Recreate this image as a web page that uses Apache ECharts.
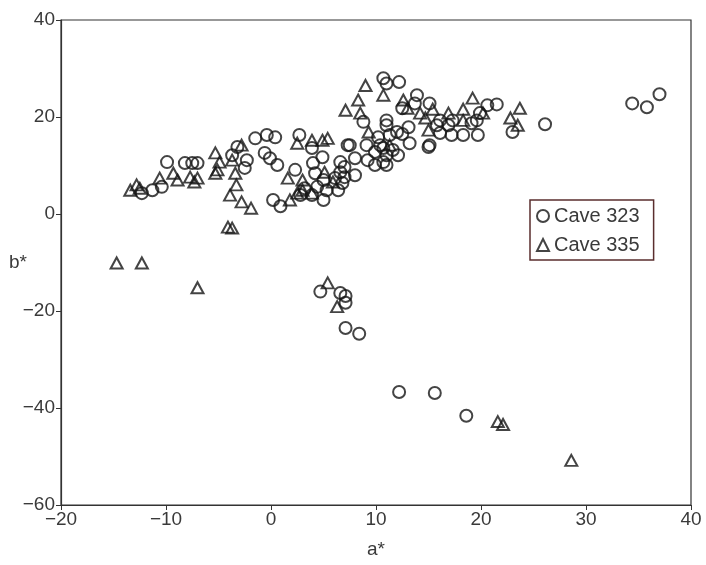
<!DOCTYPE html>
<html>
<head>
<meta charset="utf-8">
<script src="https://cdn.jsdelivr.net/npm/echarts@6/dist/echarts.min.js"></script>
<style>
  html, body { margin: 0; padding: 0; background: #fff; }
  #chart { width: 706px; height: 565px; }
</style>
</head>
<body>
<div id="chart"></div>
<script>
// a*, b* values
const cave323 = [
  [-12.3, 4.3], [-11.3, 4.9], [-10.4, 5.6], [-9.9, 10.7], [-8.2, 10.5], [-7.5, 10.5], [-7.0, 10.5],
  [-3.7, 12.1], [-3.2, 13.8], [-2.3, 11.1], [-2.5, 9.5], [-1.5, 15.6],
  [-0.4, 16.3], [0.4, 15.8], [2.7, 16.3], [3.9, 13.6], [7.3, 14.2], [4.9, 11.7], [-0.6, 12.6],
  [-0.1, 11.5], [0.6, 10.1], [4.0, 10.5], [6.6, 10.7], [2.3, 9.1], [4.2, 8.4], [5.0, 7.0], [6.1, 7.4],
  [6.8, 6.4], [3.2, 5.3], [4.4, 5.6], [5.3, 4.9], [6.4, 4.9], [2.8, 3.9], [3.9, 3.9], [5.0, 2.9],
  [0.2, 2.9], [0.9, 1.6],
  [10.7, 28.0], [11.0, 26.9], [12.2, 27.2], [13.9, 24.5], [13.7, 22.8], [12.5, 21.8], [15.1, 22.8],
  [20.6, 22.4], [21.5, 22.6], [19.9, 20.8], [19.6, 19.3], [19.1, 18.7], [16.1, 19.3], [17.3, 19.3],
  [15.8, 18.3], [16.9, 18.3], [16.1, 16.7], [17.2, 16.3], [18.3, 16.3], [19.7, 16.3], [23.0, 16.9],
  [11.0, 19.3], [11.0, 18.3], [13.1, 17.9], [12.0, 16.9], [12.5, 16.5], [10.2, 15.8], [11.3, 16.3],
  [13.2, 14.6], [15.1, 14.2], [15.0, 13.8], [9.1, 14.2], [7.5, 14.2], [10.4, 14.2], [10.7, 13.6],
  [11.6, 13.2], [9.9, 12.8], [11.0, 12.1], [12.1, 12.1], [8.0, 11.5], [9.2, 11.1], [10.7, 10.7],
  [9.9, 10.1], [11.0, 10.1], [7.0, 9.7], [6.6, 8.6], [8.0, 8.0], [7.0, 7.6], [8.8, 19.0],
  [26.1, 18.5], [34.4, 22.8], [35.8, 22.0], [37.0, 24.7],
  [4.7, -16.0], [6.6, -16.3], [7.1, -16.9], [7.1, -18.3], [7.1, -23.5], [8.4, -24.7],
  [12.2, -36.7], [15.6, -36.9], [18.6, -41.6]
]

const cave335 = [
  [-14.7, -10.1], [-12.3, -10.1], [-7.0, -15.2], [5.4, -14.2], [6.3, -19.1],
  [21.6, -42.8], [22.1, -43.4], [28.6, -50.8],
  [-13.4, 4.9], [-12.8, 6.0], [-12.5, 5.3], [-10.6, 7.4], [-9.3, 8.4], [-8.9, 7.0], [-7.7, 7.6],
  [-7.3, 6.6], [-7.0, 7.4], [-5.3, 12.6], [-4.9, 10.7], [-5.1, 9.1], [-5.3, 8.4], [-3.7, 11.1],
  [-3.4, 8.4], [-3.3, 6.0], [-3.9, 3.9], [-2.8, 2.5], [-1.9, 1.2], [-4.1, -2.7], [-3.7, -2.9],
  [-2.8, 14.2],
  [2.5, 14.6], [3.9, 15.2], [4.9, 15.2], [5.4, 15.6], [1.6, 7.4], [3.0, 7.0], [5.1, 8.6], [5.9, 6.6],
  [3.0, 4.9], [2.5, 4.3], [3.9, 4.3], [1.8, 2.9],
  [9.0, 26.5], [10.7, 24.5], [8.3, 23.5], [7.1, 21.4], [8.5, 20.8], [12.6, 23.5], [13.0, 21.8],
  [19.2, 23.9], [15.4, 21.6], [14.2, 20.8], [14.7, 19.8], [16.9, 20.8], [18.3, 21.6], [18.3, 19.3],
  [20.2, 20.8], [22.8, 19.8], [23.7, 21.8], [15.0, 17.3], [9.3, 16.9], [11.3, 14.2], [23.5, 18.3]
]

const xTicks = [-20, -10, 0, 10, 20, 30, 40]
const yTicks = [-60, -40, -20, 0, 20, 40]

const minus = v => String(v).replace('-', '\u2212')
const labelFont = { color: '#3a3a3a', fontSize: 19, fontFamily: 'Liberation Sans, Arial, sans-serif' }

const chart = echarts.init(document.getElementById('chart'))
const option = {
  animation: false,
  grid: {
    left: 61, right: 15, top: 20, bottom: 60,
    outerBoundsMode: 'none',
    show: true, borderColor: '#333', borderWidth: 1.2
  },
  xAxis: {
    type: 'value',
    min: xTicks[0], max: xTicks[xTicks.length - 1], interval: 10,
    name: 'a*', nameLocation: 'middle', nameGap: 35,
    nameTextStyle: labelFont,
    axisLine: { onZero: false, lineStyle: { color: '#333', width: 1.2 } },
    axisTick: { show: true, length: 5, lineStyle: { color: '#333' } },
    axisLabel: Object.assign({ margin: 5, formatter: minus }, labelFont),
    splitLine: { show: false }
  },
  yAxis: {
    type: 'value',
    min: yTicks[0], max: yTicks[yTicks.length - 1], interval: 20,
    name: 'b*', nameLocation: 'middle', nameGap: 34, nameRotate: 0,
    nameMoveOverlap: false,
    nameTextStyle: labelFont,
    axisLine: { show: true, onZero: false, lineStyle: { color: '#333', width: 1.2 } },
    axisTick: { show: true, length: 5, lineStyle: { color: '#333' } },
    axisLabel: Object.assign({ margin: 6, formatter: minus }, labelFont),
    splitLine: { show: false }
  },
  legend: {
    left: 530, top: 200,
    orient: 'vertical',
    itemGap: 9,
    itemWidth: 12, itemHeight: 12,
    padding: [6, 14, 5, 6],
    backgroundColor: '#fff',
    borderColor: '#5a2e2e', borderWidth: 1.5,
    textStyle: Object.assign({}, labelFont, { fontSize: 20 }),
    data: [
      { name: 'Cave 323', icon: 'circle' },
      { name: 'Cave 335', icon: 'triangle' }
    ]
  },
  series: [
    {
      name: 'Cave 323',
      type: 'scatter',
      symbol: 'circle',
      symbolSize: 12,
      itemStyle: { color: 'rgba(255,255,255,0)', borderColor: '#151515', borderWidth: 2 },
      data: cave323
    },
    {
      name: 'Cave 335',
      type: 'scatter',
      symbol: 'triangle',
      symbolSize: [12, 11],
      itemStyle: { color: 'rgba(255,255,255,0)', borderColor: '#151515', borderWidth: 2 },
      data: cave335
    }
  ]
}
chart.setOption(option)
</script>
</body>
</html>
